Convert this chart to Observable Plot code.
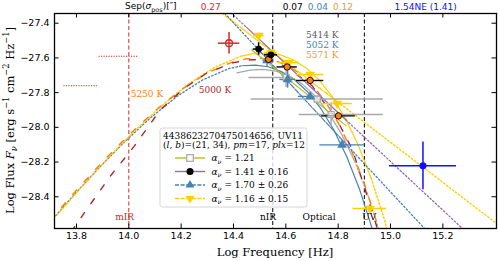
<!DOCTYPE html>
<html><head><meta charset="utf-8">
<script src="https://cdn.jsdelivr.net/npm/d3@7"></script>
<script src="https://cdn.jsdelivr.net/npm/@observablehq/plot@0.6"></script>
<style>body{margin:0;background:#fff}#chart svg{display:block}</style>
</head><body><div id="chart"></div>
<script>
// ---- axes ----
const xTicks = [13.8, 14.0, 14.2, 14.4, 14.6, 14.8, 15.0, 15.2];
const yTicks = [-27.4, -27.6, -27.8, -28.0, -28.2, -28.4];
const xDomain = [13.716, 15.405];
const yDomain = [-28.583, -27.344];

// ---- blackbody curves ----
const bb5250X = [13.70,13.80,13.90,14.00,14.10,14.20,14.30,14.40,14.45,14.50,14.55,14.60,14.65,14.70,14.75,14.80,14.85,14.90,14.95,15.00];
const bb5250Y = [-28.534,-28.362,-28.198,-28.045,-27.905,-27.783,-27.686,-27.621,-27.605,-27.601,-27.611,-27.639,-27.686,-27.755,-27.850,-27.974,-28.130,-28.323,-28.558,-28.840];
const bb5000X = [13.78,13.85,13.93,14.02,14.12,14.21,14.30,14.40,14.47,14.53,14.60,14.70,14.80,14.855,14.895,14.945,14.97];
const bb5000Y = [-28.60,-28.45,-28.28,-28.11,-27.90,-27.776,-27.685,-27.627,-27.61,-27.612,-27.65,-27.76,-27.97,-28.13,-28.32,-28.56,-28.70];
const bb5571X = [13.726,13.826,13.926,14.026,14.126,14.226,14.326,14.426,14.476,14.526,14.576,14.626,14.676,14.726,14.776,14.826,14.876,14.926,14.976,15.026];
const bb5571Y = [-28.504,-28.332,-28.168,-28.015,-27.875,-27.753,-27.656,-27.591,-27.575,-27.571,-27.581,-27.609,-27.656,-27.725,-27.820,-27.944,-28.100,-28.293,-28.528,-28.810];
const bb5052X = [13.683,13.783,13.883,13.983,14.083,14.183,14.283,14.383,14.433,14.483,14.533,14.583,14.633,14.683,14.733,14.783,14.833,14.883,14.933,14.983];
const bb5052Y = [-28.574,-28.402,-28.238,-28.085,-27.945,-27.823,-27.726,-27.661,-27.645,-27.641,-27.651,-27.679,-27.726,-27.795,-27.890,-28.014,-28.170,-28.363,-28.598,-28.880];
const bb5414X = [14.413,14.463,14.513,14.563,14.613,14.663,14.713,14.763,14.813,14.863,14.913,14.963,15.013];
const bb5414Y = [-27.686,-27.670,-27.666,-27.676,-27.704,-27.751,-27.820,-27.915,-28.039,-28.195,-28.388,-28.623,-28.905];

// ---- power-law lines ----
const plPurpleX = [14.39, 14.45, 14.83, 15.28];
const plPurpleY = [-27.34, -27.424, -27.958, -28.59];
const plGoldX = [14.357, 14.43, 14.81, 15.405];
const plGoldY = [-27.344, -27.428, -27.867, -28.554];
const plBlueX = [14.367, 14.50, 14.82, 15.13];
const plBlueY = [-27.344, -27.560, -28.080, -28.583];
const plOliveX = [14.47, 14.83];
const plOliveY = [-27.554, -27.990];

// ---- photometry ----
const redX = [14.383], redY = [-27.515], redXErr = [0.041], redYErr = [0.062];
const redLimX1 = [13.886, 13.752], redLimX2 = [14.034, 13.880], redLimY = [-27.59, -27.76];
const blackX = [14.496, 14.543], blackY = [-27.549, -27.582], blackXErr = [0.021, 0.025], blackYErr = [0.036, 0.010];
const orangeX = [14.534, 14.605, 14.693, 14.801], orangeY = [-27.608, -27.652, -27.730, -27.934];
const orangeXErr = [0.010, 0.039, 0.052, 0.065];
const goldX = [14.497, 14.543, 14.612, 14.693, 14.796, 14.921];
const goldY = [-27.471, -27.569, -27.627, -27.696, -27.863, -28.468];
const goldXErr = [0.020, 0.025, 0.040, 0.052, 0.058, 0.064];
const goldYErr = [0.015, 0.010, 0.010, 0.012, 0.012, 0.010];
const sbX = [14.528, 14.607, 14.693, 14.815], sbY = [-27.615, -27.724, -27.822, -28.101];
const sbXErr = [0.015, 0.030, 0.045, 0.085], sbYErr = [0.040, 0.050, 0.015, 0.015];
const greyX = [14.601, 14.720, 14.773], greyY = [-27.713, -27.837, -27.926];
const greyXLo = [14.459, 14.467, 14.651], greyXHi = [14.628, 14.972, 14.972];
const greyYErr = [0.058, 0.015, 0.068];
const uvX = [15.124], uvY = [-28.222], uvXErr = [0.128], uvYErr = [0.137];

// ---- annotations ----
const regionLines = [14.0, 14.55, 14.9];
const regionLabels = ["mIR", "nIR", "Optical", "UV"];
const regionLabelX = [13.984, 14.532, 14.727, 14.919];
const regionLabelY = -28.52;
const tempLabels = ["5250 K", "5000 K", "5414 K", "5052 K", "5571 K"];
const tempLabelX = [14.007, 14.267, 14.677, 14.677, 14.677];
const tempLabelY = [-27.807, -27.788, -27.467, -27.524, -27.586];
const sepLabels = ["0.27", "0.07", "0.04", "0.12", "1.54NE (1.41)"];
const sepLabelX = [14.275, 14.588, 14.684, 14.780, 15.015];
const sepLabelY = -27.308;
const legendTitle = "4438623270475014656, UV11";
const legendAlphas = ["1.21", "1.41 ± 0.16", "1.70 ± 0.26", "1.16 ± 0.15"];

// colours
const C = {red:"#d62728", orange:"#ff7f0e", dred:"#a8282a", gold:"#ffd000", goldText:"#daa520",
  sb:"#4682b4", grey:"#a8a8a8", greyText:"#606060", purple:"#9467bd", olive:"#bcbd22", blue:"#1010ff"};

const rows = (xs, ys) => xs.map((x, i) => ({x, y: ys[i]}));
const between = (d, a, b) => d.filter(p => p.x >= a && p.x <= b);
const seg = (xs, ys, i, j) => rows(xs.slice(i, j + 1), ys.slice(i, j + 1));

const o5250 = rows(bb5250X, bb5250Y), o5000 = rows(bb5000X, bb5000Y);
const g5571 = rows(bb5571X, bb5571Y), b5052 = rows(bb5052X, bb5052Y), k5414 = rows(bb5414X, bb5414Y);

const errRows = (xs, ys, xe, ye) => xs.map((x, i) => ({x, y: ys[i], xlo: x - xe[i], xhi: x + xe[i],
  ylo: ys[i] - (ye ? ye[i] : 0), yhi: ys[i] + (ye ? ye[i] : 0)}));
const red = errRows(redX, redY, redXErr, redYErr);
const black = errRows(blackX, blackY, blackXErr, blackYErr);
const orange = errRows(orangeX, orangeY, orangeXErr);
const gold = errRows(goldX, goldY, goldXErr, goldYErr);
const sb = errRows(sbX, sbY, sbXErr, sbYErr);
const grey = greyX.map((x, i) => ({x, y: greyY[i], xlo: greyXLo[i], xhi: greyXHi[i], ylo: greyY[i] - greyYErr[i], yhi: greyY[i] + greyYErr[i]}));
const uv = errRows(uvX, uvY, uvXErr, uvYErr);
const redLims = redLimY.map((y, i) => ({y, x1: redLimX1[i], x2: redLimX2[i]}));

const triDown = {draw(c, size) { const s3 = Math.sqrt(3); const y = -Math.sqrt(size / (s3 * 3));
  c.moveTo(0, -y * 2); c.lineTo(-s3 * y, y); c.lineTo(s3 * y, y); c.closePath(); }};

const DOT = "1.5,2.2", DASH = "6,11";
const L = (data, stroke, dash, w = 1.1) => Plot.line(data, {x: "x", y: "y", stroke, strokeWidth: w, strokeDasharray: dash, clip: true});
const ebX = (data, stroke, w = 1.4) => Plot.ruleY(data, {y: "y", x1: "xlo", x2: "xhi", stroke, strokeWidth: w});
const ebY = (data, stroke, w = 1.4) => Plot.ruleX(data, {x: "x", y1: "ylo", y2: "yhi", stroke, strokeWidth: w});

const PW = 498 - 54 - 2, PH = 261 - 13 - 33;

const plot = Plot.plot({
  width: 498, height: 261,
  marginTop: 13, marginRight: 2, marginBottom: 33, marginLeft: 54,
  style: {fontFamily: "DejaVu Sans", fontSize: "9.5px", background: "white", overflow: "visible"},
  x: {domain: xDomain},
  y: {domain: yDomain},
  marks: [
    Plot.ruleX([regionLines[0]], {stroke: C.red, strokeWidth: 1, strokeDasharray: "4,2.5"}),
    Plot.ruleX(regionLines.slice(1), {stroke: "black", strokeWidth: 1, strokeDasharray: "4,2.5"}),
    // blackbodies
    L(between(b5052, 13.6, 14.433), C.sb, DOT, 1.3),
    L(between(b5052, 14.433, 14.933), C.sb, null, 1.2),
    L(between(b5052, 14.933, 16), C.sb, DOT, 1.3),
    L(between(g5571, 13.6, 14.426), C.gold, DOT, 1.5),
    L(between(g5571, 14.426, 14.926), C.gold, null, 1.2),
    L(between(g5571, 14.926, 16), C.gold, DOT, 1.5),
    L(between(k5414, 14.4, 14.863), C.grey, null, 1.2),
    L(between(k5414, 14.863, 16), C.grey, DOT, 1.3),
    L(o5250, C.orange, DASH, 1.4),
    L(o5000, C.dred, DASH, 1.4),
    // power laws
    L(seg(plGoldX, plGoldY, 0, 1), C.gold, DOT, 1.4),
    L(seg(plGoldX, plGoldY, 1, 2), C.gold, "5,1.5", 1.3),
    L(seg(plGoldX, plGoldY, 2, 3), C.gold, DOT, 1.4),
    L(seg(plPurpleX, plPurpleY, 0, 1), C.purple, DOT, 1.3),
    L(seg(plPurpleX, plPurpleY, 1, 2), C.purple, null, 1.2),
    L(seg(plPurpleX, plPurpleY, 2, 3), C.purple, DOT, 1.3),
    L(seg(plBlueX, plBlueY, 0, 1), C.sb, DOT, 1.3),
    L(seg(plBlueX, plBlueY, 1, 2), C.sb, "5,1.5", 1.2),
    L(seg(plBlueX, plBlueY, 2, 3), C.sb, DOT, 1.3),
    L(rows(plOliveX, plOliveY), C.olive, null, 1.2),
    // red limits
    Plot.ruleY(redLims, {y: "y", x1: "x1", x2: "x2", stroke: C.red, strokeWidth: 1.1, strokeDasharray: "1.2,1.3"}),
    // error bars
    ebX(grey, C.grey, 1.5), ebY(grey, C.grey, 1.5),
    ebX(sb, C.sb), ebY(sb, C.sb),
    ebX(gold, C.gold, 1.5), ebY(gold, C.gold, 1.5),
    ebX(orange, "black"),
    ebX(black, "black", 1.5), ebY(black, "black", 1.5),
    ebX(red, C.red, 1.5), ebY(red, C.red, 1.5),
    ebX(uv, C.blue, 1.5), ebY(uv, C.blue, 1.5),
    // markers
    Plot.dot(grey, {x: "x", y: "y", symbol: "square", r: 3.4, fill: "white", fillOpacity: 0.6, stroke: C.grey, strokeWidth: 1.2}),
    Plot.dot(sb, {x: "x", y: "y", symbol: "triangle", r: 3.3, fill: C.sb, stroke: C.sb, strokeWidth: 0.5}),
    Plot.dot(gold, {x: "x", y: "y", symbol: triDown, r: 3.3, fill: C.gold, stroke: C.gold, strokeWidth: 0.5}),
    Plot.dot(orange, {x: "x", y: "y", r: 3.2, fill: C.orange, stroke: "black", strokeWidth: 0.9}),
    Plot.dot(black, {x: "x", y: "y", r: 3.4, fill: "black"}),
    Plot.dot(red, {x: "x", y: "y", r: 3.4, fill: "none", stroke: C.red, strokeWidth: 1.3}),
    Plot.dot(uv, {x: "x", y: "y", r: 3.6, fill: C.blue}),
    // labels
    Plot.text(regionLabels, {x: (d, i) => regionLabelX[i], y: regionLabelY, text: d => d,
      textAnchor: (d, i) => ["end", "end", "middle", "start"][i], fill: (d, i) => i === 0 ? C.red : "black",
      fontFamily: "DejaVu Serif", fontSize: 9}),
    Plot.text(tempLabels, {x: (d, i) => tempLabelX[i], y: (d, i) => tempLabelY[i], text: d => d, textAnchor: "start",
      fill: (d, i) => [C.orange, C.dred, C.greyText, C.sb, C.goldText][i], fontFamily: "DejaVu Serif", fontSize: 9}),
    Plot.text(sepLabels, {x: (d, i) => sepLabelX[i], y: sepLabelY, text: d => d, textAnchor: "start",
      fill: (d, i) => [C.red, "black", C.sb, C.goldText, C.blue][i], fontFamily: "DejaVu Sans", fontSize: 9}),
    // frame and ticks
    Plot.frame({stroke: "black", strokeWidth: 1.3}),
    Plot.tickX(xTicks, {x: d => d, insetTop: PH - 4.5, stroke: "black"}),
    Plot.tickX(xTicks, {x: d => d, insetBottom: PH - 4.5, stroke: "black"}),
    Plot.tickY(yTicks, {y: d => d, insetRight: PW - 4.5, stroke: "black"}),
    Plot.tickY(yTicks, {y: d => d, insetLeft: PW - 4.5, stroke: "black"}),
    Plot.axisX(xTicks, {tickSize: 0, tickPadding: 4, tickFormat: d3.format(".1f"), label: null, fontSize: 9.5}),
    Plot.axisY(yTicks, {tickSize: 0, tickPadding: 5, tickFormat: d3.format(".1f"), label: null, fontSize: 9.5})
  ]
});
document.getElementById("chart").appendChild(plot);

// ---- rich text helpers ----
const svg = d3.select(plot);
function rich(parent, parts, {x, y, size, family, fill = "black", anchor = "start", transform}) {
  const t = parent.append("text").attr("x", x).attr("y", y + 0.35 * size).attr("font-size", size)
    .attr("font-family", family).attr("fill", fill).attr("text-anchor", anchor);
  if (transform) t.attr("transform", transform);
  let off = 0;
  for (const p of parts) {
    const s = typeof p === "string" ? {t: p} : p;
    const target = s.sub ? 0.3 * size : s.sup ? -0.4 * size : 0;
    const ts = t.append("tspan").text(s.t).attr("dy", target - off);
    off = target;
    if (s.sub || s.sup) ts.attr("font-size", size * 0.72);
    if (s.i) ts.attr("font-style", "italic");
  }
  return t;
}
const sx = plot.scale("x"), sy = plot.scale("y");
const cx = (sx.apply(xDomain[0]) + sx.apply(xDomain[1])) / 2;
const cy = (sy.apply(yDomain[0]) + sy.apply(yDomain[1])) / 2;

rich(svg, ["Log Frequency [Hz]"], {x: cx, y: 251.5, size: 11.5, family: "DejaVu Serif", anchor: "middle"});
rich(svg, ["Log Flux ", {t: "F", i: true}, {t: "ν", sub: true, i: true}, " [erg s", {t: "−1", sup: true},
  " cm", {t: "−2", sup: true}, " Hz", {t: "−1", sup: true}, "]"],
  {x: 0, y: 0, size: 11.5, family: "DejaVu Serif", anchor: "middle", transform: `translate(10,${cy}) rotate(-90)`});
rich(svg, ["Sep(", {t: "σ", i: true}, {t: "pos", sub: true}, ")[″]"], {x: 125, y: 6, size: 9, family: "DejaVu Sans"});

// ---- legend ----
const lg = svg.append("g");
lg.append("rect").attr("x", 160).attr("y", 128).attr("width", 147).attr("height", 79).attr("rx", 2.5)
  .attr("fill", "white").attr("fill-opacity", 0.8).attr("stroke", "#cccccc").attr("stroke-width", 0.8);
rich(lg, [legendTitle], {x: 163, y: 135.5, size: 9, family: "DejaVu Serif"});
rich(lg, ["(", {t: "l", i: true}, ", ", {t: "b", i: true}, ")=(21, 34), ", {t: "pm", i: true}, "=17, ", {t: "plx", i: true}, "=12"],
  {x: 163, y: 144.5, size: 9, family: "DejaVu Serif"});
const entries = [
  {line: C.olive, dash: null, mark: "square"},
  {line: C.purple, dash: null, mark: "circle"},
  {line: C.sb, dash: "4,1.6", mark: "tri"},
  {line: C.gold, dash: "4,1.6", mark: "tridown"}
];
entries.forEach((e, i) => {
  const y = 158 + i * 13.5;
  lg.append("line").attr("x1", 175).attr("x2", 205).attr("y1", y).attr("y2", y).attr("stroke", e.line)
    .attr("stroke-width", 1.4).attr("stroke-dasharray", e.dash);
  const m = 190;
  if (e.mark === "square") lg.append("rect").attr("x", m - 3.3).attr("y", y - 3.3).attr("width", 6.6).attr("height", 6.6)
    .attr("fill", "white").attr("stroke", C.grey).attr("stroke-width", 1.2);
  if (e.mark === "circle") lg.append("circle").attr("cx", m).attr("cy", y).attr("r", 3.5).attr("fill", "black");
  if (e.mark === "tri") lg.append("path").attr("transform", `translate(${m},${y})`).attr("d", d3.symbol(d3.symbolTriangle, 34)()).attr("fill", C.sb);
  if (e.mark === "tridown") lg.append("path").attr("transform", `translate(${m},${y})`).attr("d", d3.symbol(triDown, 34)()).attr("fill", C.gold);
  rich(lg, [{t: "α", i: true}, {t: "ν", sub: true, i: true}, " = " + legendAlphas[i]], {x: 211.5, y, size: 9, family: "DejaVu Serif"});
});
</script></body></html>
